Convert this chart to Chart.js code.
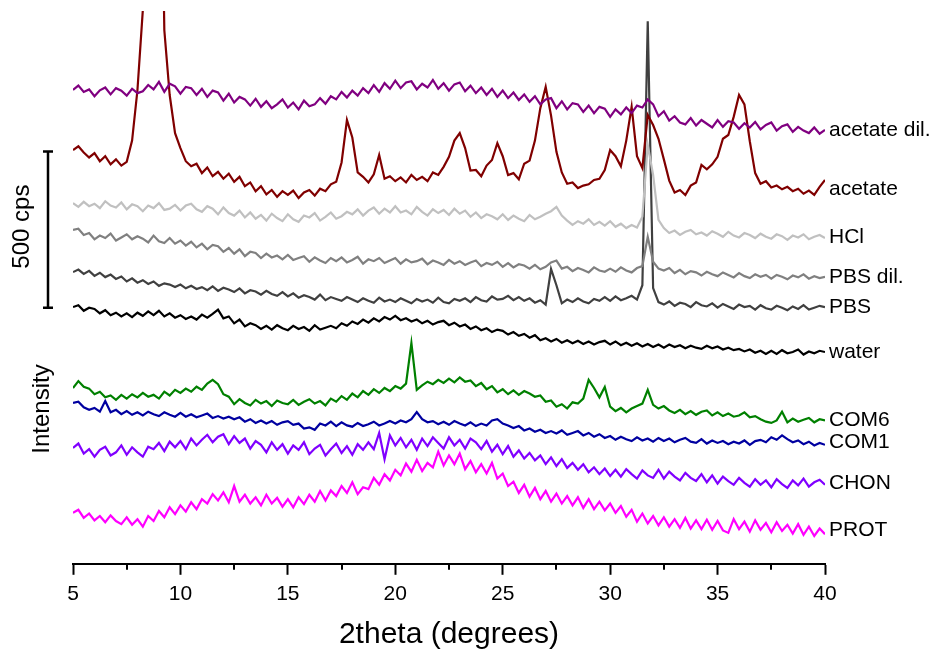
<!DOCTYPE html>
<html>
<head>
<meta charset="utf-8">
<script src="https://cdn.jsdelivr.net/npm/chart.js@4/dist/chart.umd.min.js"></script>
<style>
  html, body { margin: 0; padding: 0; background: #fff; }
</style>
</head>
<body>
<canvas id="xrd" width="934" height="654"></canvas>
<script>
// 2theta grid shared by every pattern (degrees)
const theta = [
  5,5.25,5.5,5.75,6,6.25,6.5,6.75,7,7.25,7.5,7.75,8,8.25,8.5,8.75,9,9.25,9.5,9.75,
  10,10.25,10.5,10.75,11,11.25,11.5,11.75,12,12.25,12.5,12.75,13,13.25,13.5,13.75,14,14.25,14.5,14.75,
  15,15.25,15.5,15.75,16,16.25,16.5,16.75,17,17.25,17.5,17.75,18,18.25,18.5,18.75,19,19.25,19.5,19.75,
  20,20.25,20.5,20.75,21,21.25,21.5,21.75,22,22.25,22.5,22.75,23,23.25,23.5,23.75,24,24.25,24.5,24.75,
  25,25.25,25.5,25.75,26,26.25,26.5,26.75,27,27.25,27.5,27.75,28,28.25,28.5,28.75,29,29.25,29.5,29.75,
  30,30.25,30.5,30.75,31,31.25,31.5,31.75,32,32.25,32.5,32.75,33,33.25,33.5,33.75,34,34.25,34.5,34.75,
  35,35.25,35.5,35.75,36,36.25,36.5,36.75,37,37.25,37.5,37.75,38,38.25,38.5,38.75,39,39.25,39.5,39.75,
  40
];

const sampleNames = ["acetate dil.", "acetate", "HCl", "PBS dil.", "PBS", "water", "COM6", "COM1", "CHON", "PROT"];

// vertical offset of each pattern in the stack (cps)
const offsets = [1517, 1325, 1155, 1069, 934, 822, 563, 515, 371, 163];

// intensities relative to each pattern's offset (cps)
const acetateDil = [0,14,-6,2,-20,-1,8,-14,6,-2,
  -18,4,-10,-4,16,2,26,-6,20,12,
  -12,10,6,-16,4,-22,-2,-8,-34,-12,
  -40,-22,-30,-50,-28,-54,-36,-58,-46,-30,
  -56,-40,-62,-34,-52,-46,-26,-44,-20,-30,
  -6,-24,-2,-18,6,-10,16,-6,22,4,
  30,6,24,28,2,20,8,32,4,22,
  -2,18,24,-4,14,-10,8,-16,4,-22,
  -2,-26,-8,-32,-14,-38,-20,-46,-30,-26,
  -58,-36,-62,-42,-46,-70,-50,-74,-54,-60,
  -86,-62,-78,-56,-74,-50,-56,-30,-46,-84,
  -68,-98,-84,-104,-110,-90,-114,-96,-108,-120,
  -96,-118,-100,-104,-124,-106,-120,-102,-126,-112,
  -104,-130,-116,-110,-134,-118,-130,-138,-120,-140,
  -128];
const acetate = [0,12,-8,-24,-10,-36,-20,-46,-30,-50,
  -38,30,192,448,1600,1800,1500,384,176,54,
  6,-36,-52,-44,-74,-56,-84,-70,-92,-76,
  -102,-86,-116,-104,-132,-116,-142,-128,-150,-132,
  -144,-130,-154,-136,-128,-146,-124,-132,-110,-102,
  -40,96,40,-72,-86,-104,-78,-16,-92,-84,
  -100,-88,-104,-80,-96,-86,-100,-72,-80,-54,
  -22,30,54,6,-66,-64,-84,-50,-32,22,
  -20,-80,-74,-94,-44,-34,30,134,202,110,
  -6,-72,-108,-104,-122,-114,-110,-96,-92,-64,
  0,-20,-52,30,138,-20,-58,112,80,36,
  -30,-98,-136,-128,-144,-114,-104,-48,-62,-46,
  -22,36,48,106,176,146,28,-74,-108,-100,
  -120,-114,-126,-118,-132,-124,-140,-130,-144,-118,
  -96];
const hcl = [0,-12,4,-10,-2,-16,6,-8,-14,2,
  -20,-4,-10,-26,-8,-16,0,-22,-18,-6,
  -24,-8,-2,-20,-28,-10,-18,-36,-14,-32,
  -40,-24,-46,-30,-50,-38,-56,-34,-48,-58,
  -36,-52,-60,-40,-46,-32,-56,-44,-30,-50,
  -42,-28,-36,-20,-40,-24,-14,-34,-18,-30,
  -10,-30,-24,-36,-12,-28,-40,-20,-32,-22,
  -38,-18,-34,-24,-44,-30,-48,-36,-42,-52,
  -36,-54,-40,-50,-58,-38,-52,-44,-34,-26,
  -12,-40,-56,-70,-58,-66,-52,-70,-60,-72,
  -58,-76,-66,-80,-70,-78,-44,186,90,-54,
  -80,-96,-88,-102,-92,-86,-100,-94,-104,-90,
  -98,-108,-92,-104,-110,-96,-102,-112,-98,-108,
  -114,-100,-106,-118,-104,-110,-100,-116,-108,-102,
  -112];
const pbsDil = [0,4,-16,-10,-30,-18,-26,-12,-34,-24,
  -14,-30,-20,-28,-40,-18,-36,-42,-26,-44,
  -34,-50,-38,-56,-44,-62,-48,-52,-70,-58,
  -76,-62,-84,-70,-74,-90,-76,-88,-82,-94,
  -80,-96,-90,-84,-102,-88,-98,-106,-90,-100,
  -88,-104,-96,-86,-108,-94,-100,-90,-106,-98,
  -90,-108,-94,-104,-100,-92,-110,-98,-104,-112,
  -96,-108,-100,-112,-104,-98,-116,-106,-112,-102,
  -118,-106,-120,-110,-114,-124,-112,-126,-118,-104,
  -98,-124,-118,-132,-122,-128,-136,-120,-130,-134,
  -124,-134,-120,-130,-136,-122,-116,-22,-102,-124,
  -130,-122,-138,-128,-142,-132,-136,-146,-134,-142,
  -148,-136,-144,-152,-138,-148,-154,-142,-150,-144,
  -156,-144,-150,-158,-146,-152,-142,-156,-148,-154,
  -150];
const pbs = [0,8,-6,4,-12,-2,-16,-8,-22,-14,
  -30,-20,-34,-26,-38,-30,-44,-36,-40,-48,
  -40,-52,-44,-54,-48,-58,-46,-60,-50,-56,
  -64,-52,-68,-58,-62,-72,-60,-70,-76,-64,
  -78,-68,-82,-74,-80,-88,-72,-90,-80,-86,
  -92,-80,-88,-96,-84,-92,-98,-82,-94,-88,
  -96,-84,-92,-100,-86,-94,-88,-98,-82,-96,
  -100,-86,-92,-84,-96,-80,-90,-94,-78,-88,
  -86,-76,-90,-80,-92,-84,-98,-90,-104,10,
  -42,-100,-88,-96,-84,-94,-100,-86,-92,-80,
  -92,-78,-90,-84,-76,-88,-42,803,-51,-96,
  -104,-94,-108,-98,-102,-112,-96,-106,-110,-100,
  -114,-102,-110,-118,-104,-112,-108,-120,-106,-116,
  -120,-108,-114,-122,-110,-118,-106,-120,-114,-108,
  -112];
const water = [0,6,-12,-2,-6,-20,-10,-26,-18,-30,
  -20,-32,-18,-28,-14,-26,-12,-30,-20,-34,
  -26,-38,-30,-40,-24,-34,-22,-8,-36,-30,
  -52,-40,-62,-52,-58,-70,-60,-72,-58,-68,
  -74,-60,-70,-64,-76,-58,-72,-66,-60,-68,
  -52,-60,-46,-54,-40,-50,-36,-46,-32,-40,
  -28,-42,-36,-46,-40,-52,-44,-56,-48,-44,
  -58,-50,-62,-56,-70,-62,-74,-68,-80,-72,
  -76,-88,-80,-92,-86,-98,-90,-106,-100,-110,
  -102,-114,-106,-116,-108,-118,-110,-120,-112,-108,
  -120,-110,-122,-114,-124,-116,-126,-118,-128,-120,
  -130,-120,-128,-122,-132,-124,-130,-134,-124,-132,
  -126,-136,-130,-138,-134,-142,-136,-146,-140,-150,
  -140,-150,-138,-148,-144,-136,-152,-142,-148,-140,
  -144];
const com6 = [0,22,4,-2,-20,-12,-30,-24,-38,-22,
  -34,-20,-30,-16,-28,-22,-34,-12,-24,-6,
  -16,-2,-12,4,-6,14,26,12,-20,-28,
  -52,-36,-48,-56,-38,-50,-42,-58,-40,-48,
  -52,-38,-54,-44,-36,-50,-42,-56,-34,-44,
  -26,-38,-18,-30,-10,-22,-4,-16,0,-10,
  6,-2,14,144,-6,8,20,12,26,16,
  30,18,34,20,24,6,16,-4,6,-14,
  -4,-20,-8,-22,-10,-18,-28,-24,-44,-40,
  -60,-52,-66,-46,-50,-34,26,0,-30,3,
  -60,-74,-64,-78,-66,-58,-50,-6,-54,-66,
  -58,-72,-80,-70,-84,-74,-86,-76,-72,-88,
  -78,-90,-82,-92,-88,-78,-94,-90,-100,-108,
  -112,-104,-76,-110,-98,-108,-102,-96,-110,-100,
  -104];
const com1 = [0,4,-14,-22,-16,-28,6,-30,-22,-36,
  -26,-38,-30,-40,-28,-36,-42,-30,-38,-44,
  -32,-44,-36,-46,-40,-34,-48,-42,-50,-44,
  -52,-46,-60,-52,-64,-56,-66,-58,-70,-62,
  -58,-70,-66,-82,-78,-86,-66,-72,-60,-74,
  -62,-72,-76,-64,-74,-68,-60,-72,-66,-58,
  -66,-56,-62,-52,-29,-52,-62,-58,-68,-60,
  -70,-58,-66,-72,-62,-74,-66,-72,-56,-52,
  -66,-72,-80,-74,-88,-82,-92,-86,-96,-90,
  -98,-88,-102,-96,-90,-104,-96,-108,-100,-112,
  -106,-118,-108,-116,-122,-110,-120,-114,-124,-112,
  -122,-114,-126,-118,-112,-124,-128,-116,-130,-120,
  -128,-122,-132,-124,-130,-120,-134,-122,-118,-126,
  -110,-118,-104,-116,-126,-120,-132,-124,-136,-128,
  -134];
const chon = [0,14,-18,-4,-28,-6,4,-24,-14,8,
  -22,2,-14,-28,4,-4,16,-10,20,2,
  22,-4,30,8,26,42,18,36,44,12,
  38,16,30,-2,22,10,-14,18,-6,12,
  -18,8,-6,18,-20,-2,10,-24,-4,14,
  -16,6,-22,12,-6,18,-4,48,-36,40,
  8,32,2,26,-6,30,6,34,16,-2,
  34,8,26,-2,30,18,-4,22,-12,10,
  -20,6,-28,-8,-34,-16,-40,-24,-52,-30,
  -58,-36,-64,-48,-70,-52,-78,-62,-84,-66,
  -90,-70,-92,-68,-84,-98,-72,-88,-96,-70,
  -98,-76,-92,-104,-80,-96,-106,-84,-110,-88,
  -114,-92,-106,-118,-96,-112,-124,-100,-118,-104,
  -126,-100,-116,-128,-104,-120,-98,-124,-110,-102,
  -118];
const prot = [0,10,-16,-2,-24,-10,-30,-8,-26,-36,
  -14,-38,-20,-44,-10,-26,6,-14,18,-4,
  24,4,34,12,44,30,60,40,66,34,
  86,36,58,30,50,24,58,30,48,20,
  44,18,50,28,58,36,70,40,72,54,
  86,64,98,60,82,76,112,90,124,104,
  138,120,158,132,170,134,160,146,196,152,
  184,156,190,140,166,130,156,126,160,110,
  126,86,100,64,90,52,80,44,70,36,
  62,30,54,24,50,16,44,12,36,8,
  30,0,22,-12,10,-28,-2,-34,-10,-40,
  -14,-44,-20,-48,-16,-50,-24,-52,-22,-54,
  -26,-56,-64,-20,-52,-28,-60,-24,-54,-32,
  -62,-30,-58,-38,-66,-36,-70,-44,-74,-50,
  -68];

const patterns = [acetateDil, acetate, hcl, pbsDil, pbs, water, com6, com1, chon, prot];
const lineColors = ["#800080", "#800000", "#c0c0c0", "#808080", "#404040", "#000000", "#008000", "#0000a0", "#8000ff", "#ff00ff"];

const xTicks = [5, 10, 15, 20, 25, 30, 35, 40];
const minorTicks = [7.5, 12.5, 17.5, 22.5, 27.5, 32.5, 37.5];
const scaleBarCps = 500;
const scaleBarBase = 820;

const fontFamily = "'Liberation Sans', Arial, Helvetica, sans-serif";

const datasets = patterns.map((values, k) => ({
  label: sampleNames[k],
  data: theta.map((t, i) => ({ x: t, y: offsets[k] + values[i] })),
  borderColor: lineColors[k],
  borderWidth: 2.2,
  pointRadius: 0,
  tension: 0,
  fill: false,
}));

// right-hand sample names, scale bar, minor ticks and y title
const decorations = {
  id: "decorations",
  afterDraw(chart) {
    const ctx = chart.ctx;
    const area = chart.chartArea;
    const xs = chart.scales.x;
    const ys = chart.scales.y;
    ctx.save();
    ctx.strokeStyle = "#000";
    ctx.fillStyle = "#000";
    ctx.lineWidth = 2;

    minorTicks.forEach((t) => {
      const px = Math.round(xs.getPixelForValue(t));
      ctx.beginPath();
      ctx.moveTo(px, area.bottom);
      ctx.lineTo(px, area.bottom + 6);
      ctx.stroke();
    });

    // 500 cps bar
    const barX = 48;
    const yb = ys.getPixelForValue(scaleBarBase);
    const yt = ys.getPixelForValue(scaleBarBase + scaleBarCps);
    ctx.lineWidth = 2.5;
    ctx.beginPath();
    ctx.moveTo(barX, yb);
    ctx.lineTo(barX, yt);
    ctx.moveTo(barX - 5, yb);
    ctx.lineTo(barX + 5, yb);
    ctx.moveTo(barX - 5, yt);
    ctx.lineTo(barX + 5, yt);
    ctx.stroke();

    ctx.textAlign = "center";
    ctx.textBaseline = "middle";
    ctx.save();
    ctx.translate(22, (yb + yt) / 2 - 3);
    ctx.rotate(-Math.PI / 2);
    ctx.font = "24px " + fontFamily;
    ctx.fillText(scaleBarCps + " cps", 0, 0);
    ctx.restore();

    ctx.save();
    ctx.translate(42, 409);
    ctx.rotate(-Math.PI / 2);
    ctx.font = "24px " + fontFamily;
    ctx.fillText("Intensity", 0, 0);
    ctx.restore();

    ctx.textAlign = "left";
    ctx.font = "21px " + fontFamily;
    chart.data.datasets.forEach((ds) => {
      const tail = ds.data.slice(-8);
      const mean = tail.reduce((s, p) => s + p.y, 0) / tail.length;
      ctx.fillText(ds.label, area.right + 4, ys.getPixelForValue(mean));
    });
    ctx.restore();
  },
};

new Chart(document.getElementById("xrd"), {
  type: "line",
  data: { datasets: datasets },
  options: {
    responsive: false,
    animation: false,
    layout: { padding: { left: 73, right: 109, top: 11, bottom: 1 } },
    plugins: { legend: { display: false }, tooltip: { enabled: false } },
    scales: {
      x: {
        type: "linear",
        min: 5,
        max: 40,
        afterBuildTicks: (scale) => {
          scale.ticks = xTicks.map((v) => ({ value: v }));
        },
        ticks: {
          color: "#000",
          font: { family: fontFamily, size: 21 },
          padding: 7,
          maxRotation: 0,
        },
        grid: { drawOnChartArea: false, tickLength: 11, tickWidth: 2, tickColor: "#000" },
        border: { color: "#000", width: 2 },
        title: {
          display: true,
          text: "2theta (degrees)",
          color: "#000",
          font: { family: fontFamily, size: 30 },
          padding: { top: 3, bottom: 0 },
        },
      },
      y: { display: false, min: 0, max: 1770 },
    },
  },
  plugins: [decorations],
});
</script>
</body>
</html>
